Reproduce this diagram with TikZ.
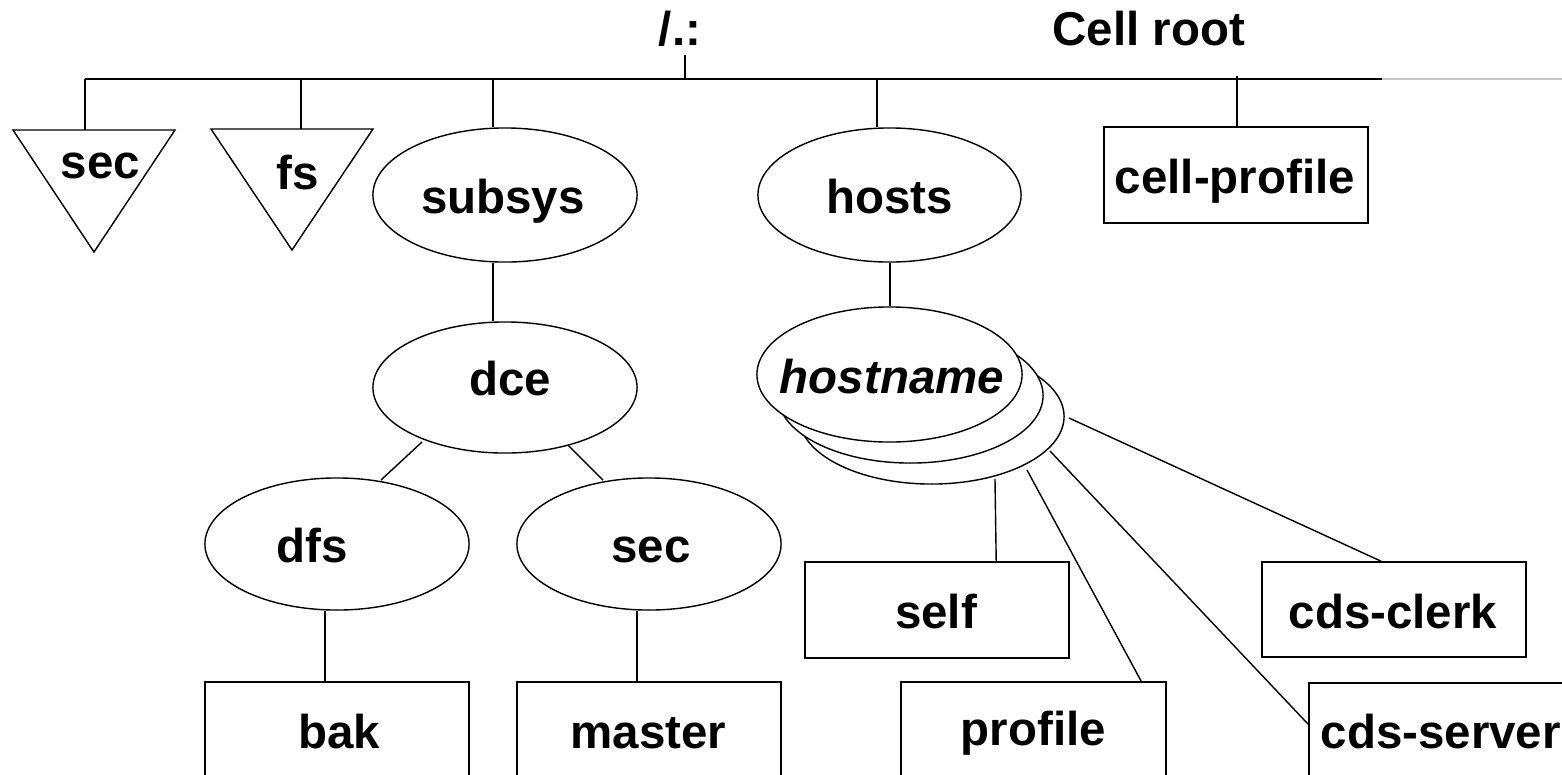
\documentclass[tikz,border=0pt]{standalone}
\usepackage{fontspec}
\setmainfont{Liberation Sans}
\usetikzlibrary{calc,shapes.geometric}
\begin{document}
\begin{tikzpicture}[x=0.01cm,y=-0.01cm,line width=0.4pt,
  lbl/.style={anchor=base,inner sep=0pt,font=\bfseries\fontsize{13.5pt}{16pt}\selectfont},
  oval/.style={draw,ellipse,inner sep=0pt,minimum width=2.64cm,minimum height=1.33cm},
  hostoval/.style={draw,ellipse,fill=white,inner sep=0pt,minimum width=2.65cm,minimum height=1.35cm},
  box/.style={draw,rectangle,inner sep=0pt,minimum width=2.64cm},
  link/.style={draw,line width=0.4pt}]
\useasboundingbox (0,0) rectangle (1562,775);
\clip (0,0) rectangle (1562,775);

% top labels and bar
\node[lbl] (root) at (680,45) {/.:};
\node[lbl,anchor=base west] (cellroot) at (1052,45) {Cell root};
\coordinate (rootpt) at (685,55);
\coordinate (barL) at (85,79);
\coordinate (barR) at (1382,79);
\coordinate (barE) at (1562,79);
\draw[link] (barL) -- (barR);
\draw[black!22] (barR) -- (barE);
\draw[link] (rootpt) -- (rootpt |- barL);

% triangles
\coordinate (secA) at (13,130);
\coordinate (secB) at (175,130);
\coordinate (secC) at (94,252);
\draw (secA) -- (secB) -- (secC) -- cycle;
\node[lbl] (tsec) at (100.5,178) {sec};
\coordinate (fsA) at (211,129);
\coordinate (fsB) at (373,129);
\coordinate (fsC) at (292,250);
\draw (fsA) -- (fsB) -- (fsC) -- cycle;
\node[lbl] (tfs) at (298,189) {fs};
\coordinate (xsec) at (85,0);
\coordinate (xfs) at (301,0);
\draw[link] (xsec |- barL) -- (xsec |- secA);
\draw[link] (xfs |- barL) -- (xfs |- fsA);

% ellipses left
\node[oval,minimum height=1.34cm] (subsys) at (505,195) {};
\node[lbl] (tsubsys) at (503,213) {subsys};
\node[oval,minimum height=1.31cm] (dce) at (505,387.5) {};
\node[lbl] (tdce) at (510,395) {dce};
\node[oval,minimum height=1.32cm] (dfs) at (337,544) {};
\node[lbl] (tdfs) at (312.5,562) {dfs};
\node[oval,minimum height=1.32cm] (sec2) at (649,544) {};
\node[lbl] (tsec2) at (651,562) {sec};
\coordinate (xsub) at (493,0);
\draw[link] (xsub |- barL) -- (xsub |- subsys.north);
\draw[link] (xsub |- subsys.south) -- (xsub |- dce.north);
\draw[link] ($(dce)+(-83,54.5)$) -- ($(dfs)+(44,-64)$);
\draw[link] ($(dce)+(63,57.5)$) -- ($(sec2)+(-46,-64)$);

% boxes left
\node[box,minimum height=1.00cm] (bak) at (337,732) {};
\node[lbl] (tbak) at (339,748) {bak};
\node[box,minimum height=1.00cm] (master) at (649,732) {};
\node[lbl] (tmaster) at (648.5,748) {master};
\coordinate (xdfs) at (325,0);
\coordinate (xsec2) at (637,0);
\draw[link] (xdfs |- dfs.south) -- (xdfs |- bak.north);
\draw[link] (xsec2 |- sec2.south) -- (xsec2 |- master.north);

% hosts
\node[oval,minimum width=2.63cm,minimum height=1.34cm] (hosts) at (889.5,195) {};
\node[lbl] (thosts) at (889.5,213) {hosts};
\coordinate (xhosts) at (877,0);
\draw[link] (xhosts |- barL) -- (xhosts |- hosts.north);

% cell-profile
\node[box,minimum height=0.96cm] (cellprofile) at (1236,175) {};
\node[lbl] (tcellprofile) at (1235,193) {cell-profile};
\coordinate (xcp) at (1237,76);
\draw[link] (xcp) -- (xcp |- cellprofile.north);

% hostname stack
\node[hostoval] (h3) at (931.5,416.5) {};
\node[hostoval] (h2) at (910.5,395.5) {};
\node[hostoval] (hostname) at (889.5,374.5) {};
\node[lbl,font=\bfseries\itshape\fontsize{13.5pt}{16pt}\selectfont] (thostname) at (892,393) {hostname};
\coordinate (xhn) at (890,0);
\draw[link] (xhn |- hosts.south) -- (xhn |- hostname.north);

% boxes right
\node[box,minimum height=0.96cm] (self) at (937,610) {};
\node[lbl] (tself) at (936,628) {self};
\node[box,minimum width=2.65cm,minimum height=1.00cm] (profile) at (1033.5,732) {};
\node[lbl] (tprofile) at (1033.5,745) {profile};
\node[box,minimum height=0.95cm] (cdsclerk) at (1394,609.5) {};
\node[lbl] (tcdsclerk) at (1393,628) {cds-clerk};
\node[box,minimum height=1.00cm] (cdsserver) at (1441,733) {};
\node[lbl,anchor=base west] (tcdsserver) at (1320,748) {cds-server};

\draw[link] ($(h3)+(63.5,62.5)$) -- ($(self.north west)+(192,0)$);
\draw[link] ($(h3)+(95.5,53.5)$) -- ($(profile.north west)+(241,0)$);
\draw[link] ($(h3)+(118.5,34.5)$) -- ($(cdsserver.north west)+(0,42)$);
\draw[link] ($(h3)+(137.5,1.5)$) -- ($(cdsclerk.north west)+(120,0)$);
\end{tikzpicture}
\end{document}
